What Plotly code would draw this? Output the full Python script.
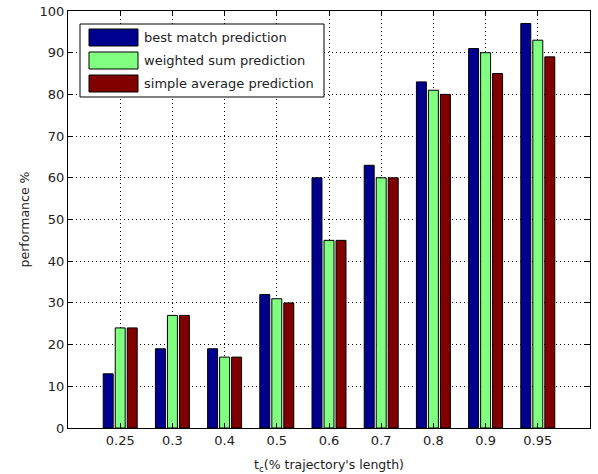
import plotly.graph_objects as go

categories = ["0.25", "0.3", "0.4", "0.5", "0.6", "0.7", "0.8", "0.9", "0.95"]
best_match = [13, 19, 19, 32, 60, 63, 83, 91, 97]
weighted_sum = [24, 27, 17, 31, 45, 60, 81, 90, 93]
simple_average = [24, 27, 17, 30, 45, 60, 80, 85, 89]

series_names = ["best match prediction", "weighted sum prediction", "simple average prediction"]
series_colors = ["#00008F", "#80FF80", "#800000"]
series_values = [best_match, weighted_sum, simple_average]

W, H = 598, 474
L, R, T, B = 68, 8, 11, 46
pw, ph = W - L - R, H - T - B

def px(x):
    return (x - L) / pw

def py(y):
    return (H - B - y) / ph

positions = list(range(1, len(categories) + 1))

fig = go.Figure()
for name, color, vals in zip(series_names, series_colors, series_values):
    fig.add_trace(go.Bar(
        x=positions, y=vals, name=name,
        marker=dict(color=color, line=dict(color="black", width=1)),
        showlegend=False,
    ))

FAM = "DejaVu Sans, Liberation Sans, sans-serif"
tickfont = dict(family=FAM, size=13, color="#222222")
titlefont = dict(family=FAM, size=12.5, color="#222222")

fig.update_layout(
    width=W, height=H,
    margin=dict(l=L, r=R, t=T, b=B, pad=0),
    paper_bgcolor="white", plot_bgcolor="white",
    barmode="group", bargap=0.31, bargroupgap=0.17,
    font=tickfont,
    xaxis=dict(
        range=[0, 10], tickmode="array", tickvals=positions, ticktext=categories,
        showline=True, linecolor="black", linewidth=1, mirror="ticks",
        ticks="inside", ticklen=5, tickcolor="black",
        showgrid=True, gridcolor="black", griddash="1px,3px", gridwidth=1,
        zeroline=False, automargin=False,
        title=dict(text="t<sub>c</sub>(% trajectory's length)", standoff=16, font=titlefont),
        tickfont=tickfont,
    ),
    yaxis=dict(
        range=[0, 100], tickmode="linear", tick0=0, dtick=10,
        showline=True, linecolor="black", linewidth=1, mirror="ticks",
        ticks="inside", ticklen=5, tickcolor="black",
        showgrid=True, gridcolor="black", griddash="1px,3px", gridwidth=1,
        zeroline=False, automargin=False,
        title=dict(text="performance %", standoff=7, font=titlefont),
        tickfont=tickfont,
    ),
)

# Legend box (MATLAB-style) built from series names and colors
shapes = [dict(type="rect", xref="paper", yref="paper",
               x0=px(80), x1=px(324), y0=py(97), y1=py(24),
               fillcolor="white", line=dict(color="black", width=1), layer="above")]
annotations = []
row_tops = [29, 52, 75]
for i, (name, color) in enumerate(zip(series_names, series_colors)):
    y0 = row_tops[i]
    shapes.append(dict(type="rect", xref="paper", yref="paper",
                       x0=px(89), x1=px(138), y0=py(y0 + 17), y1=py(y0),
                       fillcolor=color, line=dict(color="black", width=1), layer="above"))
    annotations.append(dict(xref="paper", yref="paper", x=px(142), y=py(y0 + 8.5),
                            text=name, showarrow=False, xanchor="left", yanchor="middle",
                            font=dict(family=FAM, size=13, color="#222222")))
fig.update_layout(shapes=shapes, annotations=annotations)

fig.write_html("out.html", config={"displayModeBar": False},
               post_script="document.body.style.margin='0';document.body.style.padding='0';")
